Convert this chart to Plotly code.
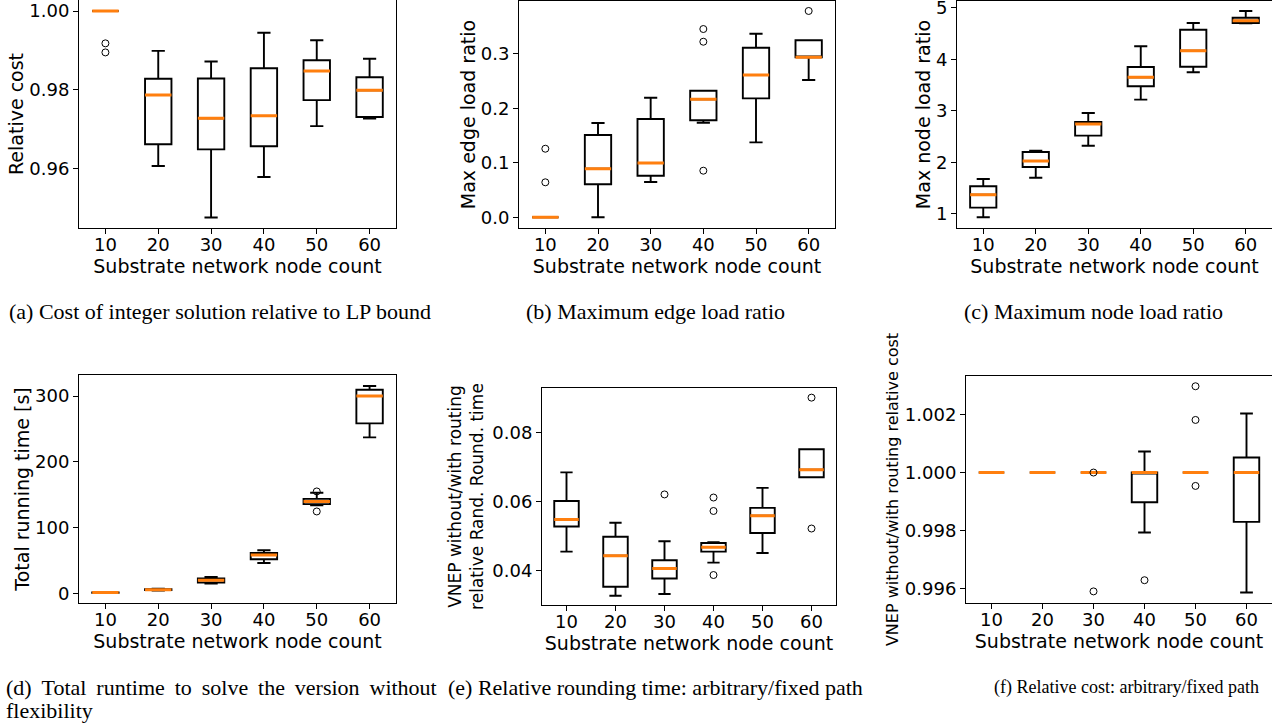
import plotly.graph_objects as go

cats = ["10", "20", "30", "40", "50", "60"]

# (a) Relative cost
a_low = [1.0, 0.9607, 0.9476, 0.9579, 0.9708, 0.9727]
a_q1 = [1.0, 0.9662, 0.9649, 0.9657, 0.9774, 0.9731]
a_med = [1.0, 0.9787, 0.9728, 0.9734, 0.9848, 0.9799]
a_q3 = [1.0, 0.9828, 0.9829, 0.9855, 0.9875, 0.9832]
a_high = [1.0, 0.9899, 0.9872, 0.9945, 0.9926, 0.9879]
a_out_x = ["10", "10"]
a_out_y = [0.9918, 0.9895]

# (b) Max edge load ratio
b_low = [0.0, 0.0, 0.0647, 0.1735, 0.1375, 0.2518]
b_q1 = [0.0, 0.0605, 0.0763, 0.1779, 0.2182, 0.2934]
b_med = [0.0, 0.0891, 0.0996, 0.2164, 0.2610, 0.2934]
b_q3 = [0.0, 0.1509, 0.1803, 0.2322, 0.3110, 0.3246]
b_high = [0.0, 0.1729, 0.2193, 0.2322, 0.3367, 0.3246]
b_out_x = ["10", "10", "40", "40", "40", "60"]
b_out_y = [0.1258, 0.0642, 0.3453, 0.3220, 0.0855, 0.3784]

# (c) Max node load ratio
c_low = [0.930, 1.699, 2.320, 3.214, 3.746, 4.697]
c_q1 = [1.117, 1.907, 2.515, 3.474, 3.854, 4.703]
c_med = [1.369, 2.023, 2.742, 3.649, 4.165, 4.748]
c_q3 = [1.532, 2.198, 2.781, 3.849, 4.573, 4.806]
c_high = [1.674, 2.223, 2.955, 4.250, 4.703, 4.936]

# (d) Total running time [s]
d_low = [0.8, 4.5, 15.2, 46.5, 134.0, 237.2]
d_q1 = [1.2, 5.3, 16.7, 52.2, 135.8, 258.5]
d_med = [1.5, 6.0, 20.2, 58.7, 139.9, 300.0]
d_q3 = [1.9, 6.6, 22.8, 61.7, 143.8, 309.6]
d_high = [2.3, 7.5, 25.2, 65.8, 153.0, 315.2]
d_out_x = ["50", "50"]
d_out_y = [155.1, 124.7]

# (e) Relative rounding time
e_low = [0.0454, 0.0326, 0.0331, 0.0422, 0.0450, 0.0670]
e_q1 = [0.0527, 0.0352, 0.0376, 0.0454, 0.0508, 0.0670]
e_med = [0.0547, 0.0442, 0.0405, 0.0467, 0.0558, 0.0692]
e_q3 = [0.0601, 0.0497, 0.0429, 0.0479, 0.0581, 0.0751]
e_high = [0.0684, 0.0538, 0.0484, 0.0481, 0.0639, 0.0751]
e_out_x = ["30", "40", "40", "40", "60", "60"]
e_out_y = [0.0620, 0.0611, 0.0572, 0.0386, 0.0901, 0.0521]

# (f) Relative cost
f_low = [1.0, 1.0, 1.0, 0.997931, 1.0, 0.995862]
f_q1 = [1.0, 1.0, 1.0, 0.998976, 1.0, 0.998297]
f_med = [1.0, 1.0, 1.0, 1.0, 1.0, 1.0]
f_q3 = [1.0, 1.0, 1.0, 1.0, 1.0, 1.000517]
f_high = [1.0, 1.0, 1.0, 1.000724, 1.0, 1.002034]
f_out_x = ["30", "30", "40", "50", "50", "50"]
f_out_y = [1.0, 0.99590, 0.996286, 1.002976, 1.001814, 0.999538]

W, H = 1272, 725
ORANGE = "#ff7f0e"
TICKFONT = dict(family="DejaVu Sans", size=18, color="black")

panels = [
    dict(s=(a_low, a_q1, a_med, a_q3, a_high), o=(a_out_x, a_out_y), box=(79, 396, 0, 228),
         yr=(0.94495, 1.0028), dt=0.02, fmt=".2f", yt="Relative cost", ys=19, so=0),
    dict(s=(b_low, b_q1, b_med, b_q3, b_high), o=(b_out_x, b_out_y), box=(519, 835, 1, 228),
         yr=(-0.0196, 0.3967), dt=0.1, fmt=".1f", yt="Max edge load ratio", ys=19, so=0),
    dict(s=(c_low, c_q1, c_med, c_q3, c_high), o=None, box=(957, 1272, 1, 228),
         yr=(0.722, 5.130), dt=1, fmt="d", yt="Max node load ratio", ys=19, so=0),
    dict(s=(d_low, d_q1, d_med, d_q3, d_high), o=(d_out_x, d_out_y), box=(79, 396, 375, 603),
         yr=(-14.3, 331.9), dt=100, fmt="d", yt="Total running time [s]", ys=19, so=0),
    dict(s=(e_low, e_q1, e_med, e_q3, e_high), o=(e_out_x, e_out_y), box=(542, 836, 388, 605),
         yr=(0.0299, 0.0929), dt=0.02, fmt=".2f",
         yt="VNEP without/with routing<br>relative Rand. Round. time", ys=17, so=4),
    dict(s=(f_low, f_q1, f_med, f_q3, f_high), o=(f_out_x, f_out_y), box=(966, 1272, 376, 603),
         yr=(0.99550, 1.00333), dt=0.002, fmt=".3f",
         yt="VNEP without/with routing relative cost", ys=16, so=2),
]

fig = go.Figure()
layout = {}
for i, p in enumerate(panels, start=1):
    xa = "x" if i == 1 else f"x{i}"
    ya = "y" if i == 1 else f"y{i}"
    low, q1, med, q3, high = p["s"]
    fig.add_trace(go.Box(x=cats, q1=q1, median=med, q3=q3, lowerfence=low, upperfence=high,
                         width=0.5, whiskerwidth=0.5, boxpoints=False,
                         line=dict(color="black", width=1.9), fillcolor="rgba(0,0,0,0)",
                         xaxis=xa, yaxis=ya, showlegend=False, hoverinfo="skip"))
    fig.add_trace(go.Box(x=cats, q1=med, median=med, q3=med, lowerfence=med, upperfence=med,
                         width=0.5, whiskerwidth=0, boxpoints=False,
                         line=dict(color=ORANGE, width=3), fillcolor="rgba(0,0,0,0)",
                         xaxis=xa, yaxis=ya, showlegend=False, hoverinfo="skip"))
    if p["o"]:
        fig.add_trace(go.Scatter(x=p["o"][0], y=p["o"][1], mode="markers",
                                 marker=dict(symbol="circle-open", size=7,
                                             color="black", line=dict(width=1)),
                                 xaxis=xa, yaxis=ya, showlegend=False, hoverinfo="skip"))
    x0, x1, yt, yb = p["box"]
    common = dict(showline=True, mirror=True, linecolor="black", linewidth=1,
                  ticks="outside", ticklen=5, tickwidth=1, tickcolor="black",
                  showgrid=False, zeroline=False, tickfont=TICKFONT, automargin=False,
                  ticklabeloverflow="allow")
    layout["xaxis" if i == 1 else f"xaxis{i}"] = dict(
        common, domain=[x0 / W, min(x1 / W, 1.0)], anchor=ya, type="category",
        categoryorder="array", categoryarray=cats, range=[-0.5, 5.5], ticklabelstandoff=-5,
        title=dict(text="Substrate network node count",
                   font=dict(family="DejaVu Sans", size=19, color="black"), standoff=4))
    layout["yaxis" if i == 1 else f"yaxis{i}"] = dict(
        common, domain=[1 - yb / H, 1 - yt / H], anchor=xa, range=list(p["yr"]),
        dtick=p["dt"], tick0=0, tickformat=p["fmt"],
        title=dict(text=p["yt"], font=dict(family="DejaVu Sans", size=p["ys"], color="black"),
                   standoff=p["so"]))

captions = [
    ("(a) Cost of integer solution relative to LP bound", 220, 311, 22),
    ("(b) Maximum edge load ratio", 655, 311, 22),
    ("(c) Maximum node load ratio", 1093, 311, 22),
    ("(e) Relative rounding time: arbitrary/fixed path", 655, 687, 22),
    ("(f) Relative cost: arbitrary/fixed path", 1126, 687, 18),
]
annotations = []
for txt, cx, cy, fs in captions:
    annotations.append(dict(text=txt, x=cx / W, y=1 - cy / H, xref="paper", yref="paper",
                            xanchor="center", yanchor="middle", showarrow=False,
                            font=dict(family="Liberation Serif", size=fs, color="black")))
CAPFONT = dict(family="Liberation Serif", size=22, color="black")
d_words = ["(d)", "Total", "runtime", "to", "solve", "the", "version", "without"]
annotations.append(dict(text=" \u2009".join(d_words),
                        x=4 / W, y=1 - 687 / H, xref="paper", yref="paper",
                        xanchor="left", yanchor="middle", showarrow=False, font=CAPFONT))
annotations.append(dict(text="flexibility", x=4 / W, y=1 - 710 / H, xref="paper", yref="paper",
                        xanchor="left", yanchor="middle", showarrow=False, font=CAPFONT))

fig.update_layout(width=W, height=H, margin=dict(l=0, r=0, t=0, b=0),
                  template="none", plot_bgcolor="white", paper_bgcolor="white",
                  boxmode="overlay", annotations=annotations, **layout)
fig.write_html("out.html", config={"displayModeBar": False},
               post_script="document.body.style.margin='0';document.body.style.overflow='hidden';")
